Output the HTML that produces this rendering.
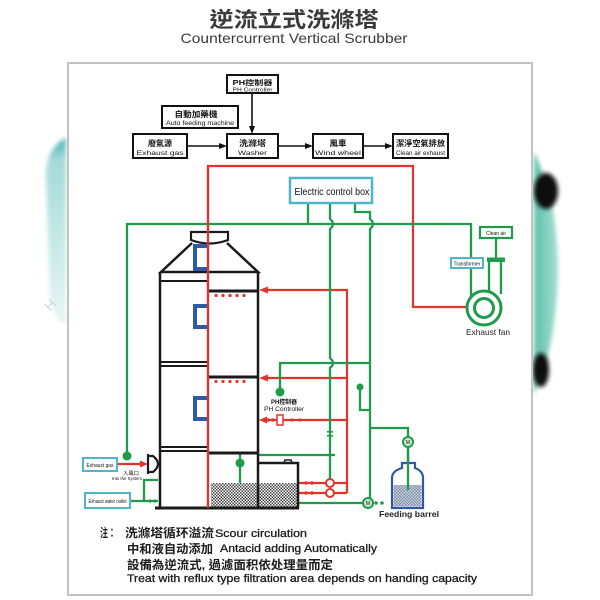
<!DOCTYPE html>
<html><head><meta charset="utf-8"><style>
html,body{margin:0;padding:0;background:#fff;}
svg{display:block;}
text{font-family:"Liberation Sans","Noto Sans CJK TC",sans-serif;}
</style></head><body>
<svg width="600" height="600" viewBox="0 0 600 600" xmlns="http://www.w3.org/2000/svg">
<defs>
<linearGradient id="lt" x1="0" y1="0" x2="0" y2="1">
 <stop offset="0" stop-color="#4fb3bb"/>
 <stop offset="0.12" stop-color="#a4dad9"/>
 <stop offset="1" stop-color="#e8f6f5"/>
</linearGradient>
<linearGradient id="rt" x1="0" y1="0" x2="1" y2="0">
 <stop offset="0" stop-color="#5fc0aa"/>
 <stop offset="1" stop-color="#a6dfd2"/>
</linearGradient>
<pattern id="chk" width="3" height="3" patternUnits="userSpaceOnUse">
 <rect width="3" height="3" fill="#fff"/>
 <rect width="1.5" height="1.5" fill="#444"/>
 <rect x="1.5" y="1.5" width="1.5" height="1.5" fill="#444"/>
</pattern>
<filter id="bl" x="-50%" y="-20%" width="200%" height="140%"><feGaussianBlur stdDeviation="2"/></filter>
</defs>

<!-- background photo remnants -->
<path d="M66,138 Q48,146 46,172 L50,300 Q56,322 66,324 Z" fill="url(#lt)" filter="url(#bl)"/>
<text x="50" y="312" font-size="14" fill="#d8d8d8" transform="rotate(-45 50 312)" font-family="Liberation Serif, serif">H</text>
<path d="M534,152 Q558,200 558,272 Q556,350 534,394 Z" fill="url(#rt)" filter="url(#bl)"/>
<ellipse cx="546" cy="191" rx="12" ry="18" fill="#111" filter="url(#bl)"/>
<ellipse cx="541" cy="370" rx="8" ry="17" fill="#111" filter="url(#bl)"/>

<!-- title -->
<text x="294" y="27" font-size="21" font-weight="bold" fill="#3a3a3a" text-anchor="middle" textLength="169" lengthAdjust="spacingAndGlyphs">逆流立式洗滌塔</text>
<text x="294" y="43" font-size="14" fill="#3a3a3a" text-anchor="middle" textLength="227" lengthAdjust="spacingAndGlyphs">Countercurrent Vertical Scrubber</text>

<!-- frame -->
<rect x="68" y="63" width="464" height="532" fill="#fff" stroke="#c2c2c2" stroke-width="2"/>

<!-- top flowchart -->
<g stroke="#111" stroke-width="2" fill="#fff">
 <rect x="227" y="75" width="51" height="18"/>
 <rect x="162" y="106" width="76" height="22"/>
 <rect x="133" y="134" width="54" height="24"/>
 <rect x="227" y="134" width="51" height="24"/>
 <rect x="313" y="134" width="50" height="24"/>
 <rect x="393" y="134" width="55" height="24"/>
</g>
<g stroke="#111" stroke-width="1.6">
 <line x1="252" y1="93" x2="252" y2="128"/>
 <line x1="187" y1="146" x2="221" y2="146"/>
 <line x1="278" y1="146" x2="307" y2="146"/>
 <line x1="363" y1="146" x2="387" y2="146"/>
</g>
<g fill="#111">
 <polygon points="252,134 249,126 255,126"/>
 <polygon points="227,146 219,143 219,149"/>
 <polygon points="313,146 305,143 305,149"/>
 <polygon points="393,146 385,143 385,149"/>
</g>
<g fill="#111" text-anchor="middle">
 <text x="252.5" y="85" font-size="7" font-weight="bold" textLength="40" lengthAdjust="spacingAndGlyphs">PH控制器</text>
 <text x="252.5" y="91.5" font-size="5.5" textLength="40" lengthAdjust="spacingAndGlyphs">PH Controller</text>
 <text x="196" y="117" font-size="8" font-weight="bold" textLength="43" lengthAdjust="spacingAndGlyphs">自動加藥機</text>
 <text x="200" y="125" font-size="6" textLength="68" lengthAdjust="spacingAndGlyphs">Auto feeding machine</text>
 <text x="160" y="146" font-size="8" font-weight="bold" textLength="24" lengthAdjust="spacingAndGlyphs">廢氣源</text>
 <text x="160" y="155" font-size="6.5" textLength="47" lengthAdjust="spacingAndGlyphs">Exhaust gas</text>
 <text x="252.5" y="146" font-size="8" font-weight="bold" textLength="27" lengthAdjust="spacingAndGlyphs">洗滌塔</text>
 <text x="252.5" y="155" font-size="6.5" textLength="29" lengthAdjust="spacingAndGlyphs">Washer</text>
 <text x="338" y="146" font-size="8" font-weight="bold" textLength="17" lengthAdjust="spacingAndGlyphs">風車</text>
 <text x="338" y="155" font-size="6.5" textLength="46" lengthAdjust="spacingAndGlyphs">Wind wheel</text>
 <text x="420.5" y="146" font-size="8" font-weight="bold" textLength="49" lengthAdjust="spacingAndGlyphs">潔淨空氣排放</text>
 <text x="420.5" y="155" font-size="6.5" textLength="49" lengthAdjust="spacingAndGlyphs">Clean air exhaust</text>
</g>

<!-- red main loop -->
<g stroke="#e2342b" stroke-width="2.2" fill="none">
 <path d="M208,508 L208,166 L413,166 L413,307 L466,307"/>
 <path d="M266,290 L347,290 L347,493"/>
 <path d="M266,378 L347,378"/>
 <path d="M266,420 L347,420"/>
 <path d="M298,483 L326,483 M334,483 L347,483"/>
 <path d="M298,493 L326,493 M334,493 L347,493"/>
 <path d="M117,464 L142,464"/>
</g>
<g fill="#e2342b">
 <polygon points="259,290 268,286.5 268,293.5"/>
 <polygon points="259,378 268,374.5 268,381.5"/>
 <polygon points="259,420 267,416.5 267,423.5"/>
 <polygon points="148,464 140,460.5 140,467.5"/>
 <circle cx="268" cy="420" r="1.8"/><circle cx="273" cy="420" r="1.8"/>
 <circle cx="292" cy="420" r="1.6"/><circle cx="300" cy="420" r="1.6"/>
 <circle cx="306" cy="483" r="1.8"/><circle cx="312" cy="483" r="1.8"/>
 <circle cx="306" cy="493" r="1.8"/><circle cx="312" cy="493" r="1.8"/>
 <circle cx="216" cy="295.5" r="1.6"/><circle cx="223" cy="295.5" r="1.6"/><circle cx="230" cy="295.5" r="1.6"/><circle cx="237" cy="295.5" r="1.6"/><circle cx="244" cy="295.5" r="1.6"/>
 <circle cx="216" cy="381.5" r="1.6"/><circle cx="223" cy="381.5" r="1.6"/><circle cx="230" cy="381.5" r="1.6"/><circle cx="237" cy="381.5" r="1.6"/><circle cx="244" cy="381.5" r="1.6"/>
</g>
<rect x="277" y="415" width="6" height="10" fill="#fff" stroke="#e2342b" stroke-width="1.5"/>
<circle cx="330" cy="483" r="4" fill="#fff" stroke="#e2342b" stroke-width="2"/>
<circle cx="330" cy="493" r="4" fill="#fff" stroke="#e2342b" stroke-width="2"/>

<!-- green lines -->
<g stroke="#1e9b4b" stroke-width="2.3" fill="none">
 <path d="M127,456 L127,224 L471,224 L471,296"/>
 <path d="M308,203 L308,224"/>
 <path d="M330,203 L330,219 Q336,224 330,229 L330,358 Q336,363 330,368 L330,479"/>
 <path d="M355,203 L355,212 L370,212 L370,219 Q376,224 370,229 L370,503"/>
 <path d="M280,388 L280,363 L370,363"/>
 <path d="M360,390 L360,410 L370,410"/>
 <path d="M370,428 L408,428 L408,437 M408,447 L408,490"/>
 <path d="M258,455 L335,455"/>
 <path d="M299,503 L363,503"/>
 <path d="M240,453 L240,483"/>
 <path d="M130,501 L158,501 M144,501 L144,480 L158,480"/>
 <path d="M496,238 L496,258 M489,262 L489,292 M501,262 L501,294"/>
</g>
<g fill="#1e9b4b">
 <circle cx="127" cy="456" r="4.5"/>
 <circle cx="280" cy="392" r="4.5"/>
 <circle cx="360" cy="387" r="3.5"/>
 <circle cx="240" cy="463" r="4.5"/>
 <rect x="487" y="257.5" width="18" height="4.5"/>
 <circle cx="376" cy="503" r="1.8"/><circle cx="382" cy="503" r="1.8"/>
 <circle cx="150" cy="501" r="1.6"/><circle cx="155" cy="501" r="1.6"/>
 <rect x="327" y="431" width="6" height="1.6"/><rect x="327" y="435" width="6" height="1.6"/>
</g>
<circle cx="408" cy="442" r="5" fill="#cfe9cf" stroke="#1e9b4b" stroke-width="2"/>
<circle cx="368" cy="503" r="5" fill="#cfe9cf" stroke="#1e9b4b" stroke-width="2"/>
<text x="408" y="444" font-size="5" text-anchor="middle" fill="#111">M</text>
<text x="368" y="505" font-size="5" text-anchor="middle" fill="#111">M</text>

<!-- fan -->
<circle cx="484" cy="308" r="17" fill="#fff" stroke="#1e9b4b" stroke-width="3"/>
<circle cx="484" cy="308" r="9.5" fill="none" stroke="#1e9b4b" stroke-width="3"/>
<rect x="480" y="227" width="32" height="11" fill="#fff" stroke="#1e9b4b" stroke-width="2.2"/>
<text x="496" y="235" font-size="5" text-anchor="middle" fill="#111" textLength="20" lengthAdjust="spacingAndGlyphs">Clean air</text>
<rect x="451" y="258" width="32" height="10" fill="#fff" stroke="#4fb6c9" stroke-width="2"/>
<text x="467" y="265.5" font-size="5" text-anchor="middle" fill="#111" textLength="27" lengthAdjust="spacingAndGlyphs">Transformer</text>
<text x="488" y="335" font-size="8.5" text-anchor="middle" fill="#222" textLength="44" lengthAdjust="spacingAndGlyphs">Exhaust fan</text>

<!-- electric control box -->
<rect x="290" y="178" width="82" height="25" fill="#fff" stroke="#4fb6c9" stroke-width="2.5"/>
<text x="332" y="195" font-size="10.5" text-anchor="middle" fill="#111" textLength="75" lengthAdjust="spacingAndGlyphs">Electric control box</text>

<!-- feeding barrel -->
<path d="M402,463 L415,463 L415,468 Q423,471 423,478 L423,508 L392,508 L392,478 Q392,471 402,468 Z" fill="#fff" stroke="#2e5aa6" stroke-width="2.2"/>
<rect x="393.5" y="485" width="28" height="21.5" fill="url(#chk)" opacity="0.55"/>
<rect x="393.5" y="485" width="28" height="21.5" fill="#2e5aa6" opacity="0.25"/>
<line x1="408" y1="447" x2="408" y2="490" stroke="#1e9b4b" stroke-width="2.3"/>
<text x="409" y="517" font-size="8.5" font-weight="bold" text-anchor="middle" fill="#222" textLength="60" lengthAdjust="spacingAndGlyphs">Feeding barrel</text>

<!-- tower -->
<rect x="211" y="483" width="87" height="24" fill="url(#chk)"/>
<g stroke="#1a1a1a" fill="none">
 <path d="M191,232 L228,232 L228,240 Q209.5,247 191,240 Z" fill="#fff" stroke-width="2.2"/>
 <path d="M192,243 L161,272 L258,272 L227,243" stroke-width="2.5"/>
 <path d="M160,272 L160,508 M258,272 L258,508" stroke-width="2.5"/>
 <path d="M160,281 L208,281 M160,362 L208,362 M160,366 L208,366 M160,447 L208,447 M160,451 L208,451" stroke-width="2"/>
 <path d="M208,291 L258,291 M208,377 L258,377 M208,453 L258,453" stroke-width="3"/>
 <path d="M258,463 L298,463 L298,508" stroke-width="2.5"/>
 <path d="M284,463 L285,460 L291,460 L292,463" stroke-width="1.5"/>
 <path d="M155,508 L299,508" stroke-width="3"/>
 <path d="M148,454 L148,474 M148,456 L153,456 Q163,464 153,472 L148,472" stroke-width="2.2"/>
</g>
<line x1="208" y1="166" x2="208" y2="508" stroke="#e2342b" stroke-width="2.2"/>
<g stroke="#2e5aa6" stroke-width="4" fill="none">
 <path d="M207,246 L195,246 L195,269 L207,269"/>
 <path d="M207,306 L195,306 L195,327 L207,327"/>
 <path d="M207,398 L195,398 L195,419 L207,419"/>
</g>

<!-- PH controller label -->
<text x="284" y="404" font-size="6" font-weight="bold" text-anchor="middle" fill="#111" textLength="26" lengthAdjust="spacingAndGlyphs">PH控制器</text>
<text x="284" y="411" font-size="6" text-anchor="middle" fill="#111" textLength="40" lengthAdjust="spacingAndGlyphs">PH Controller</text>

<!-- left inlet labels -->
<rect x="83" y="458" width="34" height="13" fill="#fff" stroke="#4fb6c9" stroke-width="2"/>
<text x="100" y="467" font-size="5.5" text-anchor="middle" fill="#111" textLength="27" lengthAdjust="spacingAndGlyphs">Exhaust gas</text>
<text x="131" y="475" font-size="5" text-anchor="middle" fill="#111" textLength="16" lengthAdjust="spacingAndGlyphs">入風口</text>
<text x="127" y="480" font-size="4.5" text-anchor="middle" fill="#111" textLength="30" lengthAdjust="spacingAndGlyphs">Into the System</text>
<rect x="85" y="493" width="45" height="15" fill="#fff" stroke="#4fb6c9" stroke-width="2"/>
<text x="107.5" y="503" font-size="5" text-anchor="middle" fill="#111" textLength="38" lengthAdjust="spacingAndGlyphs">Exhaust water outlet</text>

<!-- notes -->
<g fill="#1c1c1c">
 <text x="100" y="537" font-size="12" font-weight="bold" textLength="16" lengthAdjust="spacingAndGlyphs">注：</text>
 <text x="125" y="537" font-size="12" font-weight="bold" textLength="89" lengthAdjust="spacingAndGlyphs">洗滌塔循环溢流</text>
 <text x="215" y="537" font-size="11" stroke="#1c1c1c" stroke-width="0.3" textLength="92" lengthAdjust="spacingAndGlyphs">Scour circulation</text>
 <text x="127" y="553" font-size="12" font-weight="bold" textLength="86" lengthAdjust="spacingAndGlyphs">中和液自动添加</text>
 <text x="220" y="552" font-size="11" stroke="#1c1c1c" stroke-width="0.3" textLength="157" lengthAdjust="spacingAndGlyphs">Antacid adding Automatically</text>
 <text x="127" y="569" font-size="12" font-weight="bold" textLength="206" lengthAdjust="spacingAndGlyphs">設備為逆流式, 過濾面积依处理量而定</text>
 <text x="127" y="582" font-size="11" stroke="#1c1c1c" stroke-width="0.3" textLength="350" lengthAdjust="spacingAndGlyphs">Treat with reflux type filtration area depends on handing capacity</text>
</g>
</svg>
</body></html>
